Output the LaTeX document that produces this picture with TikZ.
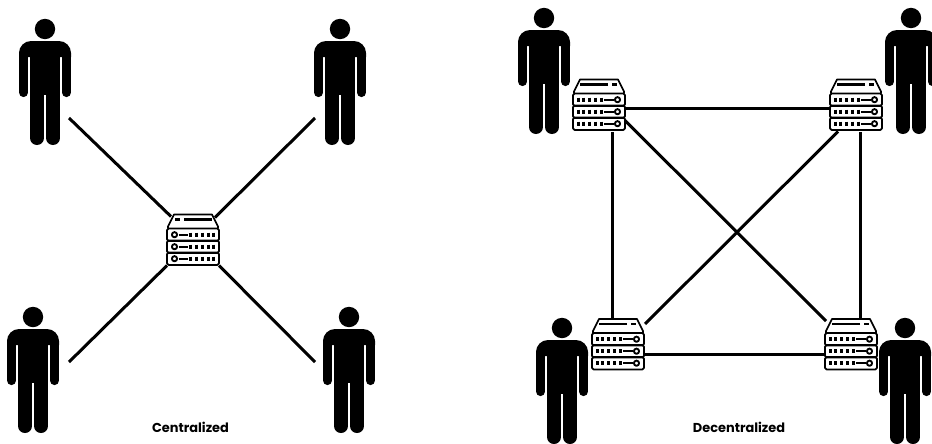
\documentclass[tikz,border=0pt]{standalone}
\usepackage{fontspec}
\setmainfont{Poppins}
\usetikzlibrary{calc}
\tikzset{
  link/.style={line width=2.25pt,black,line cap=butt},
  straightlink/.style={line width=2.25pt,black,line cap=butt},
  caption/.style={font=\bfseries\fontsize{9.7pt}{11pt}\selectfont,inner sep=0pt,anchor=center},
  servernode/.style={minimum width=39pt,minimum height=40pt,inner sep=0pt,outer sep=0pt},
  personnode/.style={minimum width=39pt,minimum height=94.5pt,inner sep=0pt,outer sep=0pt},
  pics/personfig/.style={code={
    \fill (0,10) circle (10.2);
    \fill (-26,38) [rounded corners=9] -- (-26,22) -- (26,22) [sharp corners] -- (26,38) -- cycle;
    \fill (-15,30) rectangle (15,76);
    \draw[line width=6.9pt,line cap=round] (-21.4,34) -- (-21.4,73.5) (21.4,34) -- (21.4,73.5);
    \draw[line width=10.5pt,line cap=round] (-8,70) -- (-8,119) (8,70) -- (8,119);
  }},
  pics/serverfig/.style={code={
    \begin{scope}[line width=1.3pt,line join=round,xscale=#1]
      \draw (-25,-12) -- (-25,-14) -- (-19,-26) -- (19,-26) -- (25,-14) -- (25,-12);
      \draw[line width=1.6pt] (-18,-21) -- (-13,-21) (-9,-21) -- (19,-21);
      \foreach \yy in {-12,0,12}{
        \draw[rounded corners=1.2] (-26,\yy) rectangle (26,\yy+12.5);
        \draw[line width=1.4pt] (-18.5,\yy+6.2) circle (2.6);
        \draw[line width=1.5pt] (-14.5,\yy+6.2) -- (-5,\yy+6.2);
        \foreach \xx in {-2.5,3.5,9.5,15.5,20.5}
          \draw[line width=1.7pt] (\xx,\yy+4) -- (\xx,\yy+8.4);
      }
    \end{scope}
  }}
}
\begin{document}
\begin{tikzpicture}[x=0.75pt,y=-0.75pt]
\useasboundingbox (0,0) rectangle (932,443);
% persons
\foreach \nm/\px/\py in {pa/45/19,pb/340/19,pc/33/307,pd/349/307,pe/544/8,pf/911/8,pg/562/318,ph/905/318}{
  \node[personnode] (\nm) at (\px,\py+63) {};
  \pic at (\px,\py) {personfig};
}
% servers
\node[servernode] (c) at (193,240.5) {};
\pic at (193,240.5) {serverfig=1};
\foreach \nm/\px/\py in {sa/599/105.5,sb/856/105.5,sc/618/345,sd/851/345}{
  \node[servernode] (\nm) at (\px,\py) {};
  \pic at (\px,\py) {serverfig=-1};
}
% centralized links
\draw[link] ($(pa.center)+(24,36)$) -- ($(c.center)+(-22,-24)$);
\draw[link] ($(pb.center)+(-25,36)$) -- ($(c.center)+(22,-23)$);
\draw[link] ($(pc.center)+(36,-8)$) -- ($(c.center)+(-26,25)$);
\draw[link] ($(pd.center)+(-34,-8)$) -- ($(c.center)+(26,25)$);
% decentralized links
\draw[straightlink] ($(sa.east)+(0,2.5)$) -- ($(sb.west)+(0,2.5)$);
\draw[straightlink] ($(sc.east)+(0,9)$) -- ($(sd.west)+(0,9)$);
\draw[straightlink] ($(sa.south)+(13,0)$) -- ($(sc.north)+(-6,0)$);
\draw[straightlink] ($(sb.south)+(4,0)$) -- ($(sd.north)+(9,0)$);
\draw[link] ($(sa.center)+(26,15)$) -- ($(sd.center)+(-25,-24)$);
\draw[link] ($(sb.center)+(-18,26)$) -- ($(sc.center)+(27,-21)$);
% captions
\node[caption] (capa) at (190.5,427) {Centralized};
\node[caption] (capb) at (739,427) {Decentralized};
\end{tikzpicture}
\end{document}
